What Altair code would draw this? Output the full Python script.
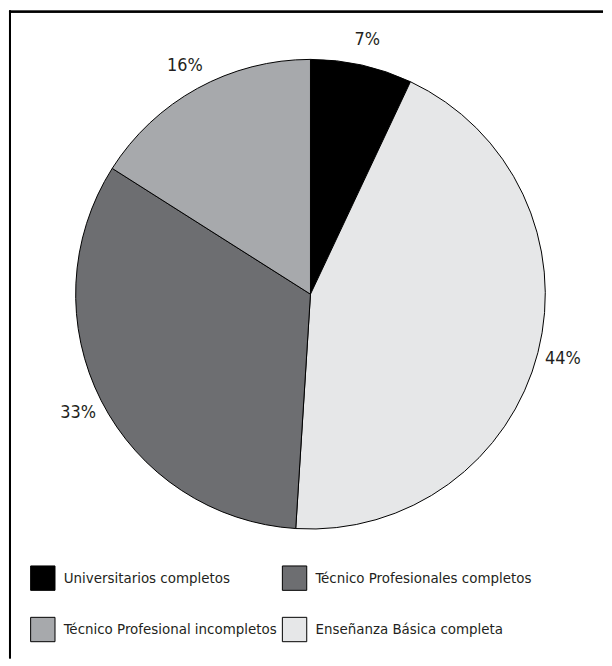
import altair as alt
import pandas as pd

categories = [
    "Universitarios completos",
    "Enseñanza Básica completa",
    "Técnico Profesionales completos",
    "Técnico Profesional incompletos",
]
values = [7, 44, 33, 16]
labels = ["7%", "44%", "33%", "16%"]
# legend fills column by column
legend_order = [
    "Universitarios completos",
    "Técnico Profesional incompletos",
    "Técnico Profesionales completos",
    "Enseñanza Básica completa",
]
colors = ["#000000", "#a7a9ac", "#6d6e71", "#e6e7e8"]

df = pd.DataFrame({
    "cat": categories,
    "value": values,
    "label": labels,
    "ord": list(range(len(categories))),
})

FONT = "'DejaVu Sans Condensed', 'Liberation Sans', sans-serif"
W, H = 596, 650
CX, CY = 302, 284

base = alt.Chart(df).encode(
    theta=alt.Theta("value:Q", stack=True),
    order=alt.Order("ord:Q"),
)

pie = base.mark_arc(outerRadius=236, stroke="black", strokeWidth=1).encode(
    x=alt.value(CX),
    y=alt.value(CY),
    color=alt.Color(
        "cat:N",
        scale=alt.Scale(domain=legend_order, range=colors),
        legend=alt.Legend(
            title=None,
            orient="none",
            legendX=20,
            legendY=556,
            columns=2,
            symbolType="square",
            symbolSize=600,
            symbolStrokeColor="black",
            symbolStrokeWidth=1,
            symbolOpacity=1,
            labelFont=FONT,
            labelFontSize=15,
            labelColor="#231f20",
            labelOffset=8,
            labelLimit=400,
            rowPadding=22,
            columnPadding=2,
        ),
    ),
)

text = base.mark_text(radius=262, font=FONT, fontSize=18, color="#231f20").encode(
    x=alt.value(CX),
    y=alt.value(CY),
    text="label:N",
)

frame_left = alt.Chart(df).mark_rule(color="black", strokeWidth=2).encode(
    x=alt.value(0), y=alt.value(-1), y2=alt.value(H)
)
frame_top = alt.Chart(df).mark_rule(color="black", strokeWidth=2).encode(
    x=alt.value(-1), x2=alt.value(W), y=alt.value(0)
)

chart = alt.layer(pie, text, frame_left, frame_top).properties(
    width=W, height=H, padding=0
).configure_view(stroke=None)

chart.save("out.html", embed_options={"renderer": "svg", "actions": False})
